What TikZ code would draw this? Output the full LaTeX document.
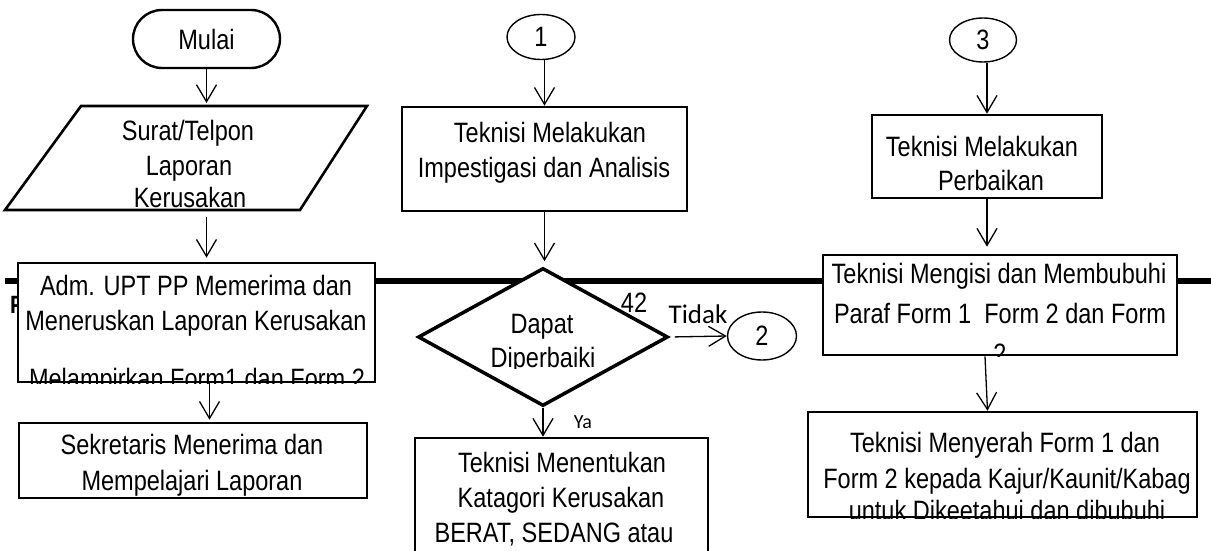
\documentclass[tikz,border=0pt]{standalone}
\usepackage{fontspec}
\setmainfont{Liberation Sans}[FakeStretch=0.84]
\newfontfamily\calfont{Carlito}
\usetikzlibrary{arrows.meta,shapes.geometric}
\begin{document}
\begin{tikzpicture}[x=1pt,y=-1pt,
  proc/.style={draw, line width=2.6pt, fill=white, rectangle, inner sep=0pt},
  conn/.style={draw, ellipse, line width=1.4pt, fill=white, inner sep=0pt,
    font=\fontsize{28}{34}\selectfont},
  arr/.style={-{Straight Barb[length=17pt,width=20pt]}, line width=1.3pt},
  txt/.style={anchor=base, inner sep=0pt, font=\fontsize{28}{34}\selectfont},
  lbl/.style={anchor=base, inner sep=0pt, font=\calfont\fontsize{27}{30}\selectfont},
  iobox/.style={draw, line width=2.6pt, fill=white, line join=miter},
  divider/.style={line width=5.5pt}]
\useasboundingbox (0,0) rectangle (1211,551);

% swimlane divider
\coordinate (dL) at (5,281);
\coordinate (dR) at (1211,281);
\draw[divider] (dL) -- (dR);
\node[anchor=base west, inner sep=0pt, font=\bfseries\fontsize{25}{30}\selectfont] (pcut) at (10,313) {P};

% ---------- left column ----------
\node[proc, rounded corners=29pt, line width=2.4pt, minimum width=147pt, minimum height=58pt,
  font=\fontsize{28}{34}\selectfont] (mulai) at (206.5,39) {Mulai};
\coordinate (pBL) at (5,210);
\coordinate (pTL) at (81,106);
\coordinate (pTR) at (367,106);
\coordinate (pBR) at (300,210);
\coordinate (paraN) at (206.5,106);
\coordinate (paraS) at (206.5,210);
\draw[iobox] (pBL) -- (pTL) -- (pTR) -- (pBR) -- cycle;
\node[txt] (p1) at (188,140) {Surat/Telpon};
\node[txt] (p2) at (189,175) {Laporan};
\node[txt] (p3) at (190,207) {Kerusakan};

\node[proc, minimum width=357pt, minimum height=119pt] (adm) at (196.5,322.5) {};
\begin{scope}
  \clip (adm.south west) rectangle (adm.north east);
  \node[txt] (a1) at (196,295) {Adm. UPT PP Memerima dan};
  \node[txt] (a2) at (196,330) {Meneruskan Laporan Kerusakan};
  \node[txt] (a3) at (197,388) {Melampirkan Form1 dan Form 2};
\end{scope}

\node[proc, minimum width=348pt, minimum height=75pt] (sek) at (193,460.5) {};
\node[txt] (s1) at (192,454) {Sekretaris Menerima dan};
\node[txt] (s2) at (192,490) {Mempelajari Laporan};

% ---------- middle column ----------
\node[conn, minimum width=68pt, minimum height=45pt] (c1) at (541,37) {1};
\node[proc, minimum width=285pt, minimum height=104pt] (imp) at (544.5,159) {};
\node[txt] (i1) at (550,142) {Teknisi Melakukan};
\node[txt] (i2) at (544,177) {Impestigasi dan Analisis};

\node[diamond, draw, line width=3.5pt, fill=white, aspect=1.81, minimum width=250pt,
  minimum height=138pt, inner sep=0pt] (dia) at (543,337) {};
\begin{scope}
  \clip (420,270) rectangle (670,368);
  \node[txt] (d1) at (542,333) {Dapat};
  \node[txt] (d2) at (543,367) {Diperbaiki};
\end{scope}
\node[txt] (n42) at (634,312) {42};
\node[lbl] (tidak) at (698,323) {Tidak};
\node[conn, minimum width=69pt, minimum height=48pt] (c2) at (762,336) {2};
\node[lbl, font=\calfont\fontsize{20}{24}\selectfont] (ya) at (583,428) {Ya};

\node[proc, minimum width=293pt, minimum height=164pt] (kat) at (561.5,520) {};
\node[txt] (k1) at (562,472) {Teknisi Menentukan};
\node[txt] (k2) at (561,507) {Katagori Kerusakan};
\node[txt] (k3) at (554,542) {BERAT, SEDANG atau};

% ---------- right column ----------
\node[conn, minimum width=67pt, minimum height=44pt] (c3) at (983,40) {3};
\node[proc, minimum width=230pt, minimum height=83pt] (perb) at (987,156.5) {};
\node[txt] (r1) at (982,157) {Teknisi Melakukan};
\node[txt] (r2) at (991,190) {Perbaikan};

\node[proc, minimum width=354pt, minimum height=100pt] (isi) at (1000,305) {};
\begin{scope}
  \clip (isi.south west) rectangle (isi.north east);
  \node[txt] (m1) at (999,283) {Teknisi Mengisi dan Membubuhi};
  \node[txt] (m2) at (1000,323) {Paraf Form 1\ \ Form 2 dan Form};
  \node[txt] (m3) at (1000,363) {2};
\end{scope}

\node[proc, minimum width=389pt, minimum height=105pt] (serah) at (1002.5,464.5) {};
\begin{scope}
  \clip (serah.south west) rectangle (serah.north east);
  \node[txt] (y1) at (1005,452) {Teknisi Menyerah Form 1 dan};
  \node[txt] (y2) at (1007,488) {Form 2 kepada Kajur/Kaunit/Kabag};
  \node[txt] (y3) at (1007,520) {untuk Dikeetahui dan dibubuhi};
\end{scope}

% ---------- connectors ----------
\draw[arr, shorten >=3pt] (mulai.south) -- (paraN);
\draw[arr, shorten <=7pt, shorten >=4pt] (paraS) -- (mulai.south |- adm.north);
\draw[arr, shorten >=2pt] ([xshift=13pt]adm.south) -- ([xshift=13pt]adm.south |- sek.north);

\draw[arr] (imp.north |- c1.south) -- (imp.north);
\draw[arr, shorten >=5pt] (imp.south) -- (imp.south |- dia.north);
\draw[arr, shorten <=5pt] (dia.east) -- (c2.west);
\draw[arr] (dia.south) -- (dia.south |- kat.north);

\draw[arr] (perb.north |- c3.south) -- (perb.north);
\draw[arr, shorten >=7pt] (perb.south) -- (perb.south |- isi.north);
\draw[arr] ([xshift=-15pt]isi.south) -- ([xshift=-15pt]serah.north);
\end{tikzpicture}
\end{document}
